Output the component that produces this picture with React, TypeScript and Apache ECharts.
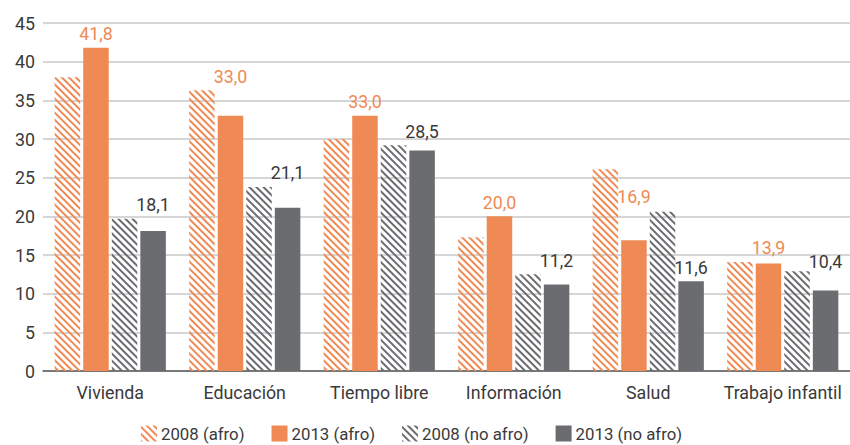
import React, { useEffect, useRef } from "react";
import * as echarts from "echarts";

const categories = ["Vivienda", "Educación", "Tiempo libre", "Información", "Salud", "Trabajo infantil"];
const afro2008 = [38.0, 36.3, 30.0, 17.3, 26.1, 14.1];
const afro2013 = [41.8, 33.0, 33.0, 20.0, 16.9, 13.9];
const noAfro2008 = [19.7, 23.8, 29.2, 12.5, 20.6, 12.9];
const noAfro2013 = [18.1, 21.1, 28.5, 11.2, 11.6, 10.4];
// value level above which each data label sits (labels are lifted over taller neighbours)
const labelLevelAfro2013 = [41.8, 36.3, 33.0, 20.0, 20.8, 14.1];
const labelLevelNoAfro2013 = [19.7, 23.8, 29.2, 12.5, 11.6, 12.3];
const seriesNames = ["2008 (afro)", "2013 (afro)", "2008 (no afro)", "2013 (no afro)"];

const ORANGE = "#EF8A54";
const DARK = "#6B6C70";
const TEXT = "#3a3a3a";
const FONT = "Roboto, 'Noto Sans', sans-serif";
const FS = 17.8;

const fmt = (p: any) => Number(p.value).toFixed(1).replace(".", ",");

export default function App() {
  const ref = useRef<HTMLDivElement>(null);
  useEffect(() => {
    if (!ref.current) return;
    const chart = echarts.init(ref.current, undefined, { renderer: "svg" });
    const hatch = (color: string) => ({
      symbol: "rect",
      symbolSize: 1,
      color,
      backgroundColor: "rgba(0,0,0,0)",
      dashArrayX: [1, 0],
      dashArrayY: [1.3, 2.5],
      rotation: Math.PI / 4,
    });
    const labelStyle = (color: string) => ({
      show: true,
      position: "top",
      distance: 5,
      formatter: fmt,
      color,
      fontSize: FS,
      fontFamily: FONT,
    });
    const build = (d1: any[], d2: any[]) => ({
      animation: false,
      textStyle: { fontFamily: FONT },
      grid: { left: 43, right: -6, top: 23, bottom: 74, containLabel: false },
      legend: {
        left: 136,
        bottom: -2,
        itemWidth: 16,
        itemHeight: 16,
        itemGap: 27,
        icon: "rect",
        textStyle: { fontSize: 16.8, color: TEXT, fontFamily: FONT, padding: [0, 0, 0, -1] },
        data: seriesNames,
      },
      xAxis: {
        type: "category",
        data: categories,
        axisLine: { lineStyle: { color: "#5a5a5a", width: 1.5 } },
        axisTick: { show: false },
        axisLabel: { interval: 0, fontSize: FS, color: TEXT, fontFamily: FONT, margin: 12 },
      },
      yAxis: {
        type: "value",
        min: 0,
        max: 45,
        interval: 5,
        axisLine: { show: false },
        axisTick: { show: false },
        splitLine: { lineStyle: { color: "#C9C9C9", width: 1.5 } },
        axisLabel: { fontSize: FS, color: TEXT, fontFamily: FONT, margin: 8 },
      },
      series: [
        {
          name: seriesNames[0],
          type: "bar",
          data: afro2008,
          barWidth: 25.5,
          barGap: "12%",
          itemStyle: { color: "rgba(255,255,255,0)", decal: hatch(ORANGE) },
        },
        {
          name: seriesNames[1],
          type: "bar",
          data: d1,
          barWidth: 25.5,
          barGap: "12%",
          itemStyle: { color: ORANGE },
          label: labelStyle(ORANGE),
        },
        {
          name: seriesNames[2],
          type: "bar",
          data: noAfro2008,
          barWidth: 25.5,
          barGap: "12%",
          itemStyle: { color: "rgba(255,255,255,0)", decal: hatch(DARK) },
        },
        {
          name: seriesNames[3],
          type: "bar",
          data: d2,
          barWidth: 25.5,
          barGap: "12%",
          itemStyle: { color: DARK },
          label: labelStyle(TEXT),
        },
      ],
    });
    chart.setOption(build(afro2013, noAfro2013));
    const lift = (values: number[], levels: number[]) =>
      values.map((v, i) => {
        const yv = chart.convertToPixel({ yAxisIndex: 0 }, v) as number;
        const yl = chart.convertToPixel({ yAxisIndex: 0 }, Math.max(v, levels[i])) as number;
        return { value: v, label: { offset: [0, yl - yv] } };
      });
    chart.setOption(build(lift(afro2013, labelLevelAfro2013), lift(noAfro2013, labelLevelNoAfro2013)), true);
    return () => chart.dispose();
  }, []);
  return (
    <div
      ref={ref}
      style={{ position: "fixed", left: 0, top: 0, width: 850, height: 445, background: "#fff" }}
    />
  );
}
